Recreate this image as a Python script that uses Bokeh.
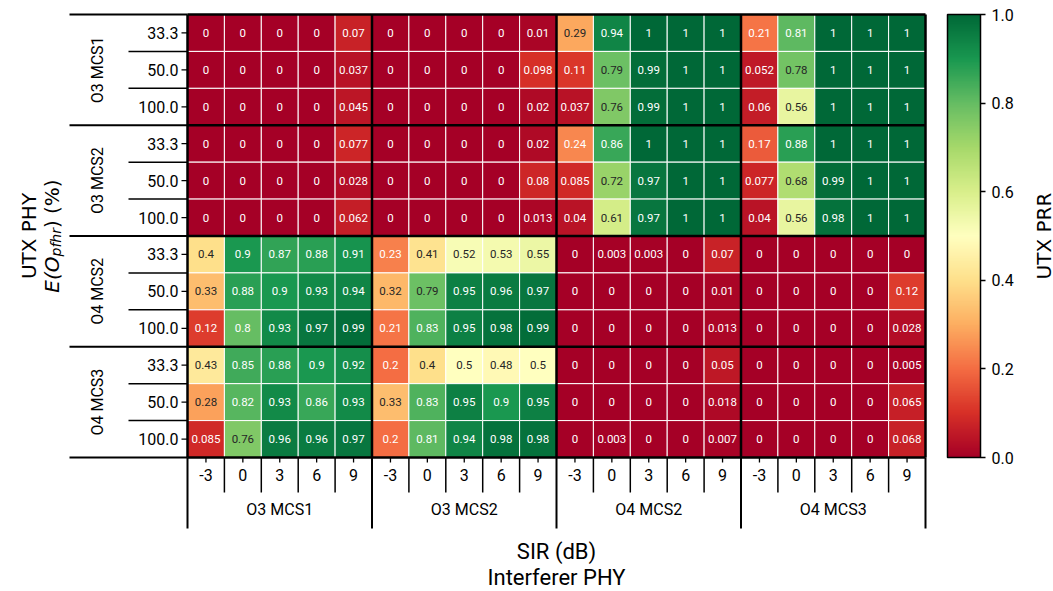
import math
import numpy as np
from bokeh.plotting import figure
from bokeh.models import (Range1d, ColumnDataSource, FixedTicker, NumeralTickFormatter,
                          LinearColorMapper, ColorBar)
from bokeh.embed import file_html
from bokeh.resources import INLINE
from bokeh.core.properties import value

# ---------------- data ----------------
utx_phy_groups = ["O3 MCS1", "O3 MCS2", "O4 MCS2", "O4 MCS3"]
interferer_phy_groups = ["O3 MCS1", "O3 MCS2", "O4 MCS2", "O4 MCS3"]
overhead_levels = ["33.3", "50.0", "100.0"]
sir_levels = ["-3", "0", "3", "6", "9"]
colorbar_ticks = [0.0, 0.2, 0.4, 0.6, 0.8, 1.0]

# rows: 33.3, 50.0, 100.0 ; columns: interferer group x SIR (-3..9)
prr_utx_o3_mcs1 = [
    [0, 0, 0, 0, 0.07, 0, 0, 0, 0, 0.01, 0.29, 0.94, 1, 1, 1, 0.21, 0.81, 1, 1, 1],
    [0, 0, 0, 0, 0.037, 0, 0, 0, 0, 0.098, 0.11, 0.79, 0.99, 1, 1, 0.052, 0.78, 1, 1, 1],
    [0, 0, 0, 0, 0.045, 0, 0, 0, 0, 0.02, 0.037, 0.76, 0.99, 1, 1, 0.06, 0.56, 1, 1, 1],
]
prr_utx_o3_mcs2 = [
    [0, 0, 0, 0, 0.077, 0, 0, 0, 0, 0.02, 0.24, 0.86, 1, 1, 1, 0.17, 0.88, 1, 1, 1],
    [0, 0, 0, 0, 0.028, 0, 0, 0, 0, 0.08, 0.085, 0.72, 0.97, 1, 1, 0.077, 0.68, 0.99, 1, 1],
    [0, 0, 0, 0, 0.062, 0, 0, 0, 0, 0.013, 0.04, 0.61, 0.97, 1, 1, 0.04, 0.56, 0.98, 1, 1],
]
prr_utx_o4_mcs2 = [
    [0.4, 0.9, 0.87, 0.88, 0.91, 0.23, 0.41, 0.52, 0.53, 0.55, 0, 0.003, 0.003, 0, 0.07, 0, 0, 0, 0, 0],
    [0.33, 0.88, 0.9, 0.93, 0.94, 0.32, 0.79, 0.95, 0.96, 0.97, 0, 0, 0, 0, 0.01, 0, 0, 0, 0, 0.12],
    [0.12, 0.8, 0.93, 0.97, 0.99, 0.21, 0.83, 0.95, 0.98, 0.99, 0, 0, 0, 0, 0.013, 0, 0, 0, 0, 0.028],
]
prr_utx_o4_mcs3 = [
    [0.43, 0.85, 0.88, 0.9, 0.92, 0.2, 0.4, 0.5, 0.48, 0.5, 0, 0, 0, 0, 0.05, 0, 0, 0, 0, 0.005],
    [0.28, 0.82, 0.93, 0.86, 0.93, 0.33, 0.83, 0.95, 0.9, 0.95, 0, 0, 0, 0, 0.018, 0, 0, 0, 0, 0.065],
    [0.085, 0.76, 0.96, 0.96, 0.97, 0.2, 0.81, 0.94, 0.98, 0.98, 0, 0.003, 0, 0, 0.007, 0, 0, 0, 0, 0.068],
]
prr_blocks = [prr_utx_o3_mcs1, prr_utx_o3_mcs2, prr_utx_o4_mcs2, prr_utx_o4_mcs3]

# ---------------- colour map (RdYlGn) ----------------
RDYLGN = ["#a50026", "#d73027", "#f46d43", "#fdae61", "#fee08b", "#ffffbf",
          "#d9ef8b", "#a6d96a", "#66bd63", "#1a9850", "#006837"]
_anchors = np.array([[int(c[i:i + 2], 16) for i in (1, 3, 5)] for c in RDYLGN], dtype=float)


def cmap_rgb(v):
    t = min(max(v, 0.0), 1.0) * (len(RDYLGN) - 1)
    i = min(int(math.floor(t)), len(RDYLGN) - 2)
    f = t - i
    return _anchors[i] * (1 - f) + _anchors[i + 1] * f


def to_hex(rgb):
    return "#%02x%02x%02x" % tuple(int(round(c)) for c in rgb)


def luminance(rgb):
    out = []
    for c in rgb / 255.0:
        out.append(c / 12.92 if c <= 0.03928 else ((c + 0.055) / 1.055) ** 2.4)
    return 0.2126 * out[0] + 0.7152 * out[1] + 0.0722 * out[2]


palette256 = [to_hex(cmap_rgb(k / 255.0)) for k in range(256)]

# ---------------- layout (pixels, page coordinates) ----------------
W, H = 1053, 591
GRID_L, GRID_T = 187, 14
GRID_W, GRID_H = 738, 443
CB_L, CB_W = 947, 33
n_cols = len(interferer_phy_groups) * len(sir_levels)
n_rows = len(utx_phy_groups) * len(overhead_levels)
CW = GRID_W / n_cols
CH = GRID_H / n_rows


def px_x(v):
    return v / CW


def px_y(v):
    return v / CH


def page_x(px):
    return (px - GRID_L) / CW


p = figure(width=W, height=H,
           x_range=Range1d(-GRID_L / CW, (W - GRID_L) / CW),
           y_range=Range1d((H - GRID_T) / CH, -GRID_T / CH),
           x_axis_type=None, y_axis_type=None, min_border=0,
           output_backend="svg", toolbar_location=None)
p.outline_line_color = None
p.background_fill_color = "white"
p.border_fill_color = "white"

TICK_FONT = value("Roboto")
TITLE_FONT = value("DejaVu Sans")

# cells
xs, ys, cols, labels, tcols = [], [], [], [], []
for g, block in enumerate(prr_blocks):
    for r, vals in enumerate(block):
        for c, v in enumerate(vals):
            rgb = cmap_rgb(v)
            xs.append(c + 0.5)
            ys.append(g * len(overhead_levels) + r + 0.5)
            cols.append(to_hex(rgb))
            labels.append(format(v, ".2g"))
            tcols.append("#262626" if luminance(rgb) > 0.408 else "white")
src = ColumnDataSource(dict(x=xs, y=ys, color=cols, label=labels, tcolor=tcols))
p.rect(x="x", y="y", width=1, height=1, source=src, fill_color="color",
       line_color="white", line_width=1)
p.text(x="x", y="y", text="label", text_color="tcolor", source=src,
       text_align="center", text_baseline="middle", text_font=TICK_FONT,
       text_font_size="11.5px")

# black group borders
gx = list(range(0, n_cols + 1, len(sir_levels)))
gy = list(range(0, n_rows + 1, len(overhead_levels)))
p.segment(x0=gx, y0=[0] * len(gx), x1=gx, y1=[n_rows] * len(gx), line_color="black", line_width=2.5)
p.segment(x0=[0] * len(gy), y0=gy, x1=[n_cols] * len(gy), y1=gy, line_color="black", line_width=2.5)

# ---- left side ----
row_centers = [i + 0.5 for i in range(n_rows)]
p.segment(x0=[-px_x(6)] * n_rows, y0=row_centers, x1=[0] * n_rows, y1=row_centers,
          line_color="black", line_width=1.3)
p.text(x=[-px_x(9)] * n_rows, y=row_centers, text=overhead_levels * len(utx_phy_groups),
       text_align="right", text_baseline="middle", text_font=TICK_FONT,
       text_font_size="16px", text_color="black")
inner_y = [i for i in range(1, n_rows) if i % len(overhead_levels)]
p.segment(x0=[page_x(128)] * len(inner_y), y0=inner_y, x1=[0] * len(inner_y), y1=inner_y,
          line_color="black", line_width=1.5)
p.segment(x0=[page_x(69)] * len(gy), y0=gy, x1=[0] * len(gy), y1=gy,
          line_color="black", line_width=2)
p.text(x=[page_x(97)] * len(utx_phy_groups),
       y=[g * len(overhead_levels) + len(overhead_levels) / 2 for g in range(len(utx_phy_groups))],
       text=utx_phy_groups, angle=math.pi / 2, text_align="center", text_baseline="middle",
       text_font=TICK_FONT, text_font_size="16px", text_color="black")

# left title (two lines, second with subscript)
yc = n_rows / 2
p.text(x=[page_x(28)], y=[yc], text=["UTX PHY"], angle=math.pi / 2,
       text_align="center", text_baseline="alphabetic", text_font=TITLE_FONT,
       text_font_size="20px", text_color="black")
w1, w2, w3 = 36.2, 28.4, 48.8
y_start = yc + px_y((w1 + w2 + w3) / 2)
p.text(x=[page_x(51)], y=[y_start], text=["E(O"], angle=math.pi / 2,
       text_align="left", text_baseline="alphabetic", text_font=TITLE_FONT,
       text_font_style="italic", text_font_size="20px", text_color="black")
p.text(x=[page_x(55)], y=[y_start - px_y(w1)], text=["pfhr"], angle=math.pi / 2,
       text_align="left", text_baseline="alphabetic", text_font=TITLE_FONT,
       text_font_style="italic", text_font_size="14px", text_color="black")
p.text(x=[page_x(51)], y=[y_start - px_y(w1 + w2)], text=[") (%)"], angle=math.pi / 2,
       text_align="left", text_baseline="alphabetic", text_font=TITLE_FONT,
       text_font_size="20px", text_color="black")

# ---- bottom side ----
col_centers = [i + 0.5 for i in range(n_cols)]
p.segment(x0=col_centers, y0=[n_rows] * n_cols, x1=col_centers, y1=[n_rows + px_y(5)] * n_cols,
          line_color="black", line_width=1.3)
p.text(x=col_centers, y=[n_rows + px_y(17)] * n_cols, text=sir_levels * len(interferer_phy_groups),
       text_align="center", text_baseline="middle", text_font=TICK_FONT,
       text_font_size="16px", text_color="black")
inner_x = [i for i in range(1, n_cols) if i % len(sir_levels)]
p.segment(x0=inner_x, y0=[n_rows] * len(inner_x), x1=inner_x, y1=[n_rows + px_y(35)] * len(inner_x),
          line_color="black", line_width=1.5)
p.segment(x0=gx, y0=[n_rows] * len(gx), x1=gx, y1=[n_rows + px_y(71)] * len(gx),
          line_color="black", line_width=2)
p.text(x=[g * len(sir_levels) + len(sir_levels) / 2 for g in range(len(interferer_phy_groups))],
       y=[n_rows + px_y(52)] * len(interferer_phy_groups), text=interferer_phy_groups,
       text_align="center", text_baseline="middle", text_font=TICK_FONT,
       text_font_size="16px", text_color="black")
p.text(x=[n_cols / 2, n_cols / 2], y=[n_rows + px_y(94), n_rows + px_y(120)],
       text=["SIR (dB)", "Interferer PHY"], text_align="center", text_baseline="middle",
       text_font=TICK_FONT, text_font_size="22px", text_color="black")

# ---------------- colour bar ----------------
mapper = LinearColorMapper(palette=palette256, low=0, high=1)
cbar = ColorBar(color_mapper=mapper, ticker=FixedTicker(ticks=colorbar_ticks),
                formatter=NumeralTickFormatter(format="0.0"),
                orientation="vertical", width=CB_W, height=GRID_H,
                location=(CB_L, H - GRID_T - GRID_H), padding=0, margin=0,
                background_fill_color=None, border_line_color=None,
                bar_line_color="black", bar_line_width=1.5,
                major_tick_line_color="black", major_tick_line_width=1.3,
                major_tick_out=5, major_tick_in=0,
                minor_tick_line_color=None, label_standoff=6,
                major_label_text_font="Roboto", major_label_text_font_size="16px",
                major_label_text_color="black", title=None)
p.add_layout(cbar, "center")
p.text(x=[page_x(1043)], y=[yc], text=["UTX PRR"], angle=math.pi / 2,
       text_align="center", text_baseline="alphabetic", text_font=TITLE_FONT,
       text_font_size="20px", text_color="black")

open("out.html", "w").write(file_html(p, INLINE))
